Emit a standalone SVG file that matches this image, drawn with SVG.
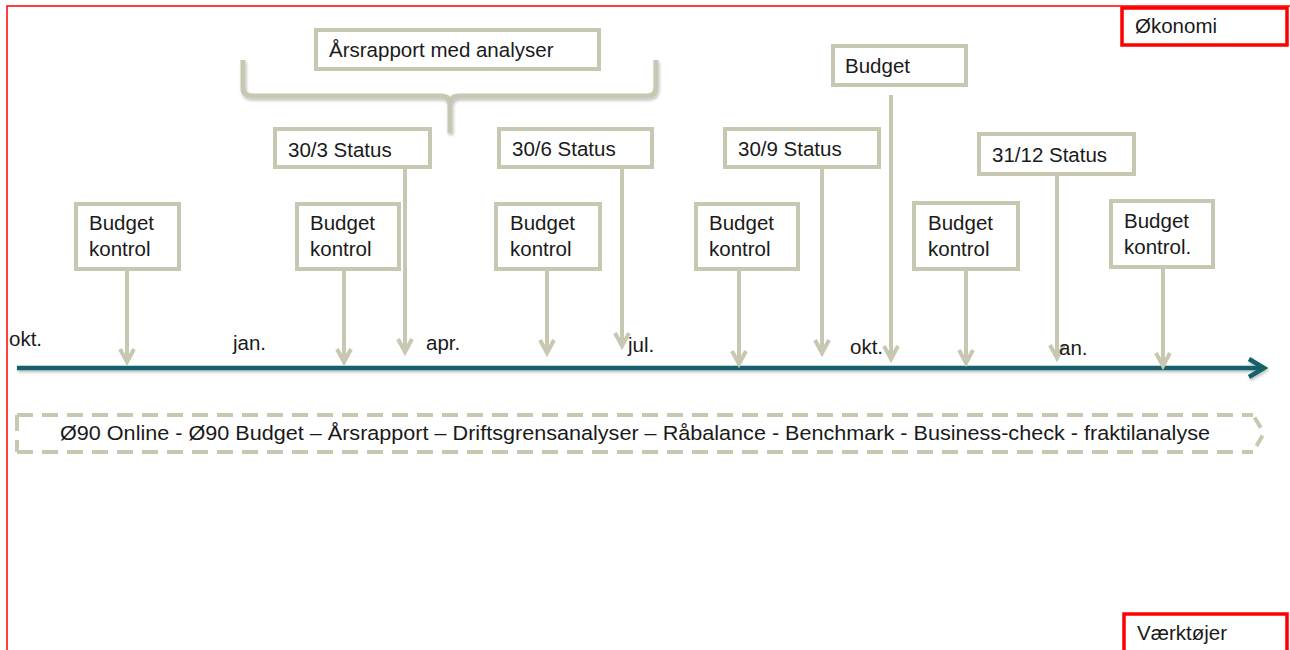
<svg xmlns="http://www.w3.org/2000/svg" width="1290" height="650" viewBox="0 0 1290 650">
<defs>
<style>
text{font-family:"Liberation Sans",Arial,sans-serif;font-size:20.5px;fill:#1a1a1a}
.box{fill:#fff;stroke:#C8C7B2;stroke-width:4}
.red{fill:#fff;stroke:#FF0000;stroke-width:3.5}
.conn{stroke:#C8C7B2;stroke-width:4;fill:none;marker-end:url(#chev)}
.brace{stroke:#C8C7B2;stroke-width:5;fill:none;stroke-linejoin:round;filter:url(#sh)}
.dash{fill:none;stroke:#C8C7B2;stroke-width:4;stroke-dasharray:16 9}
</style>
<marker id="chev" viewBox="0 0 20 18" refX="16" refY="9" markerWidth="20" markerHeight="18" orient="auto" markerUnits="userSpaceOnUse">
<path d="M3,2 L16,9 L3,16" fill="none" stroke="#C8C7B2" stroke-width="4" stroke-linejoin="miter"/>
</marker>
<marker id="tchev" viewBox="0 0 22 22" refX="18" refY="11" markerWidth="22" markerHeight="22" orient="auto" markerUnits="userSpaceOnUse">
<path d="M3,2 L18,11 L3,20" fill="none" stroke="#17616B" stroke-width="4.5"/>
</marker>
<filter id="sh" filterUnits="userSpaceOnUse" x="0" y="0" width="1290" height="650">
<feDropShadow dx="1" dy="2" stdDeviation="1.5" flood-color="#000" flood-opacity="0.25"/>
</filter>
</defs>
<rect x="0" y="0" width="1290" height="650" fill="#fff"/>
<rect x="7" y="6" width="1300" height="700" fill="none" stroke="#FF0000" stroke-width="1.5"/>

<g id="brace">
<path class="brace" d="M243,60 V87 Q243,96 252,96 H441 Q450,96 450,105 V133 M656,60 V87 Q656,96 647,96 H459 Q450,96 450,105"/>
</g>

<g id="connectors">
<line x1="17" y1="368" x2="1264" y2="368" stroke="#17616B" stroke-width="4.5" marker-end="url(#tchev)" filter="url(#sh)"/>
<line class="conn" x1="127" y1="270" x2="127" y2="362"/>
<line class="conn" x1="344" y1="270" x2="344" y2="362"/>
<line class="conn" x1="547" y1="270" x2="547" y2="353"/>
<line class="conn" x1="739" y1="270" x2="739" y2="364"/>
<line class="conn" x1="966" y1="270" x2="966" y2="363"/>
<line class="conn" x1="1163" y1="268" x2="1163" y2="366"/>
<line class="conn" x1="405" y1="168" x2="405" y2="352"/>
<line class="conn" x1="622" y1="161" x2="622" y2="346"/>
<line class="conn" x1="822" y1="168" x2="822" y2="353"/>
<line class="conn" x1="891" y1="95" x2="891" y2="359"/>
<line class="conn" x1="1057" y1="175" x2="1057" y2="358"/>
</g>

<g id="okonomi"><rect class="red" x="1122" y="8" width="165" height="37"/><text x="1135" y="33">Økonomi</text></g>
<g id="vaerktojer"><rect class="red" x="1124" y="614" width="163" height="50"/><text x="1137" y="640">Værktøjer</text></g>

<g id="aarsrapport"><rect class="box" x="316" y="30" width="283" height="39"/><text x="329" y="57">Årsrapport med analyser</text></g>
<g id="status303"><rect class="box" x="275" y="129" width="155" height="38"/><text x="288" y="157">30/3 Status</text></g>
<g id="status306"><rect class="box" x="499" y="129" width="153" height="38"/><text x="512" y="156">30/6 Status</text></g>
<g id="status309"><rect class="box" x="725" y="129" width="154" height="38"/><text x="738" y="156">30/9 Status</text></g>
<g id="budget"><rect class="box" x="833" y="46" width="133" height="39"/><text x="845" y="73">Budget</text></g>
<g id="status3112"><rect class="box" x="979" y="134" width="155" height="40"/><text x="992" y="162">31/12 Status</text></g>

<g id="bk1"><rect class="box" x="76" y="204" width="103" height="65"/><text x="89" y="230">Budget</text><text x="89" y="256">kontrol</text></g>
<g id="bk2"><rect class="box" x="297" y="204" width="102" height="65"/><text x="310" y="230">Budget</text><text x="310" y="256">kontrol</text></g>
<g id="bk3"><rect class="box" x="496" y="204" width="104" height="65"/><text x="510" y="230">Budget</text><text x="510" y="256">kontrol</text></g>
<g id="bk4"><rect class="box" x="696" y="204" width="102" height="65"/><text x="709" y="230">Budget</text><text x="709" y="256">kontrol</text></g>
<g id="bk5"><rect class="box" x="914" y="203" width="104" height="66"/><text x="928" y="230">Budget</text><text x="928" y="256">kontrol</text></g>
<g id="bk6"><rect class="box" x="1111" y="201" width="102" height="66"/><text x="1124" y="228">Budget</text><text x="1124" y="254">kontrol.</text></g>

<g id="months">
<text x="9" y="346">okt.</text>
<text x="233" y="350">jan.</text>
<text x="426" y="350">apr.</text>
<text x="628" y="352">jul.</text>
<text x="850" y="354">okt.</text>
<text x="1059" y="355">an.</text>
</g>

<g id="tools">
<path class="dash" d="M17,415 H1253"/>
<path class="dash" d="M17,452 H1253"/>
<path class="dash" d="M17,415 V452"/>
<path d="M1253,415 L1264,433 L1253,452" fill="none" stroke="#C8C7B2" stroke-width="4" stroke-dasharray="12 9" stroke-dashoffset="-3"/>
<text x="60" y="440" font-size="21" textLength="1150" lengthAdjust="spacingAndGlyphs">Ø90 Online - Ø90 Budget – Årsrapport – Driftsgrensanalyser  – Råbalance - Benchmark - Business-check - fraktilanalyse</text>
</g>
</svg>
